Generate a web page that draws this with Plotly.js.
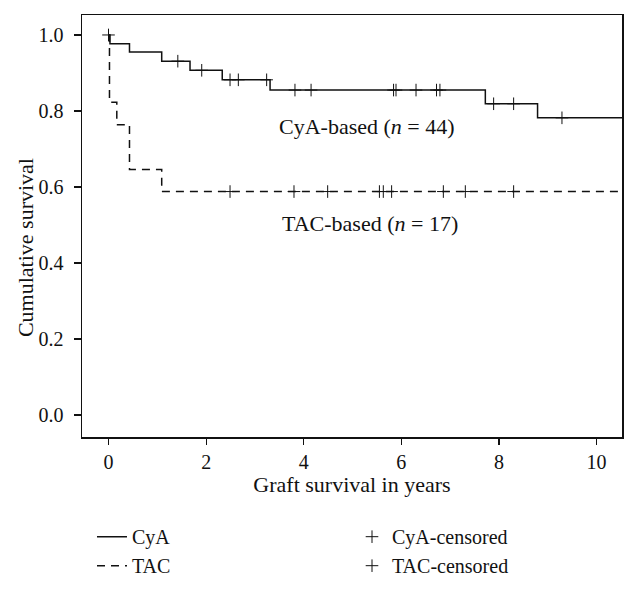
<!DOCTYPE html>
<html>
<head>
<meta charset="utf-8">
<script src="https://cdn.plot.ly/plotly-3.0.1.min.js"></script>
<style>html,body{margin:0;padding:0;background:#fff;}#chart{width:636px;height:611px;}</style>
</head>
<body>
<div id="chart"></div>
<script>
// Kaplan-Meier step data (times in years, survival)
var cyaTimes = [0, 0.03, 0.43, 1.09, 1.67, 2.33, 3.31, 7.72, 8.79, 10.52];
var cyaSurv  = [1.0, 0.977, 0.955, 0.931, 0.907, 0.882, 0.855, 0.819, 0.782, 0.782];
var tacTimes = [0, 0.02, 0.17, 0.43, 1.09, 10.52];
var tacSurv  = [1.0, 0.823, 0.764, 0.646, 0.588, 0.588];
// censored observations (times in years)
var cyaCensor = [0.0, 1.42, 1.91, 2.49, 2.66, 3.24, 3.82, 4.15, 5.84, 5.89, 6.30, 6.72, 6.79, 7.89, 8.30, 9.29];
var tacCensor = [2.49, 3.80, 4.49, 5.55, 5.63, 5.80, 6.86, 7.31, 8.30];
var xTicks = [0, 2, 4, 6, 8, 10];
var yTicks = [0, 0.2, 0.4, 0.6, 0.8, 1.0];
var yTickText = ['0.0', '0.2', '0.4', '0.6', '0.8', '1.0'];

function stepAt(times, surv, t) {
  var v = surv[0];
  for (var i = 0; i < times.length; i++) { if (times[i] <= t) v = surv[i]; }
  return v;
}

var FONT = 'Liberation Serif, Times New Roman, serif';
var FS = 20;

var traces = [
  {x: cyaTimes, y: cyaSurv, mode: 'lines', line: {shape: 'hv', color: '#111', width: 1.5}, name: 'CyA', legend: 'legend'},
  {x: tacTimes, y: tacSurv, mode: 'lines', line: {shape: 'hv', color: '#111', width: 1.5, dash: '8px,6px'}, name: 'TAC', legend: 'legend'},
  {x: cyaCensor, y: cyaCensor.map(function(t){return stepAt(cyaTimes, cyaSurv, t);}), mode: 'markers',
   marker: {symbol: 'cross-thin-open', size: 9, color: '#111', line: {width: 1, color: '#111'}}, name: 'CyA-censored', legend: 'legend2'},
  {x: tacCensor, y: tacCensor.map(function(t){return stepAt(tacTimes, tacSurv, t);}), mode: 'markers',
   marker: {symbol: 'cross-thin-open', size: 9, color: '#111', line: {width: 1, color: '#111'}}, name: 'TAC-censored', legend: 'legend2'}
];

var layout = {
  width: 636, height: 611,
  margin: {l: 82, r: 14, t: 15, b: 174},
  paper_bgcolor: '#fff', plot_bgcolor: '#fff',
  font: {family: FONT, size: FS, color: '#111'},
  showlegend: true,
  xaxis: {
    range: [-0.543, 10.52], tickvals: xTicks, ticks: 'outside', ticklen: 6, tickwidth: 1.2, tickcolor: '#111',
    showline: true, linecolor: '#111', linewidth: 1.5, mirror: true, showgrid: false, zeroline: false,
    tickfont: {family: FONT, size: FS, color: '#111'},
    title: {text: 'Graft survival in years', font: {family: FONT, size: 22, color: '#111'}, standoff: 3}
  },
  yaxis: {
    range: [-0.0577, 1.0525], tickvals: yTicks, ticktext: yTickText, ticks: 'outside', ticklen: 7, tickwidth: 1.2, tickcolor: '#111',
    ticklabelstandoff: 6,
    showline: true, linecolor: '#111', linewidth: 1.5, mirror: true, showgrid: false, zeroline: false,
    tickfont: {family: FONT, size: FS, color: '#111'}
  },
  legend: {x: 0.0185, y: -0.19, xanchor: 'left', yanchor: 'top', orientation: 'v', bgcolor: 'rgba(0,0,0,0)',
           font: {family: FONT, size: 20, color: '#111'}, itemwidth: 30, tracegroupgap: 0},
  legend2: {x: 0.5, y: -0.19, xanchor: 'left', yanchor: 'top', orientation: 'v', bgcolor: 'rgba(0,0,0,0)',
           font: {family: FONT, size: 20, color: '#111'}, itemwidth: 30, tracegroupgap: 0},
  annotations: [
    {x: -0.1056, y: 0.45, xref: 'paper', yref: 'paper', showarrow: false, xanchor: 'center', yanchor: 'middle',
     textangle: -90, text: 'Cumulative survival', font: {family: FONT, size: 22, color: '#111'}},
    {x: 5.3, y: 0.76, xref: 'x', yref: 'y', showarrow: false, xanchor: 'center',
     text: 'CyA-based (<i>n</i> = 44)', font: {family: FONT, size: 22, color: '#111'}},
    {x: 5.35, y: 0.505, xref: 'x', yref: 'y', showarrow: false, xanchor: 'center',
     text: 'TAC-based (<i>n</i> = 17)', font: {family: FONT, size: 22, color: '#111'}}
  ]
};

Plotly.newPlot('chart', traces, layout, {displayModeBar: false, staticPlot: true});
</script>
</body>
</html>
